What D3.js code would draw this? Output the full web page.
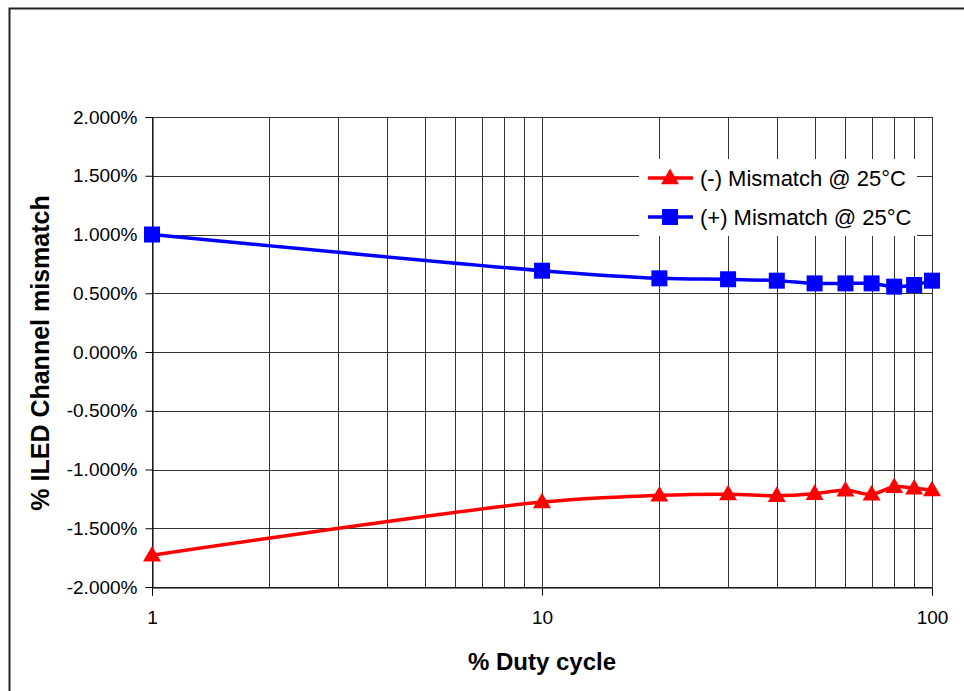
<html>
  <head>
    <meta charset="UTF-8" />
    <script src="https://d3js.org/d3.v7.min.js"></script>
    <style>
      body { margin: 0; background: #fff; }
      text { font-family: "Liberation Sans", Arial, sans-serif; }
    </style>
  </head>
  <body>
    <svg id="svg"></svg>
    <script>
      // duty cycle (%) and channel mismatch (%)
      var duty = [1, 10, 20, 30, 40, 50, 60, 70, 80, 90, 100];
      var negMismatch = [-1.73, -1.277, -1.22, -1.21, -1.223, -1.206, -1.177, -1.211, -1.147, -1.16, -1.176];
      var posMismatch = [1.0, 0.692, 0.627, 0.619, 0.607, 0.584, 0.584, 0.584, 0.556, 0.57, 0.607];
      var yTicks = [-2, -1.5, -1, -0.5, 0, 0.5, 1, 1.5, 2];
      var xGrid = [1, 2, 3, 4, 5, 6, 7, 8, 9, 10, 20, 30, 40, 50, 60, 70, 80, 90, 100];
      var xLabels = [1, 10, 100];
      var seriesNames = ["(-) Mismatch @ 25°C", "(+) Mismatch @ 25°C"];

      var width = 964, height = 691;
      var plotLeft = 152, plotTop = 117, plotW = 780, plotH = 470;

      var svg = d3.select("#svg").attr("width", width).attr("height", height);

      // outer frame (only top and left edges visible)
      svg.append("path")
        .attr("d", "M9.5," + height + "V8.5H" + width)
        .attr("fill", "none")
        .attr("stroke", "#222")
        .attr("stroke-width", 2);

      var x = d3.scaleLog().domain([1, 100]).range([plotLeft, plotLeft + plotW]);
      var y = d3.scaleLinear().domain([-2, 2]).range([plotTop + plotH, plotTop]);

      var grid = svg.append("g").attr("shape-rendering", "crispEdges");
      grid.selectAll(".vg")
        .data(xGrid)
        .enter()
        .append("line")
        .attr("x1", (d) => Math.round(x(d)) + 0.5)
        .attr("x2", (d) => Math.round(x(d)) + 0.5)
        .attr("y1", plotTop)
        .attr("y2", plotTop + plotH)
        .attr("stroke", "#333");
      grid.selectAll(".hg")
        .data(yTicks)
        .enter()
        .append("line")
        .attr("x1", plotLeft)
        .attr("x2", plotLeft + plotW)
        .attr("y1", (d) => Math.round(y(d)) + 0.5)
        .attr("y2", (d) => Math.round(y(d)) + 0.5)
        .attr("stroke", "#333");

      // axes
      var yAxis = svg.append("g")
        .attr("transform", "translate(" + (plotLeft + 0.5) + ",0)")
        .call(d3.axisLeft(y).tickValues(yTicks).tickSize(7).tickPadding(8)
          .tickFormat((d) => d.toFixed(3) + "%"));
      var xAxis = svg.append("g")
        .attr("transform", "translate(0," + (plotTop + plotH + 0.5) + ")")
        .call(d3.axisBottom(x).tickValues(xLabels).tickSize(8).tickPadding(15)
          .tickFormat(d3.format("d")));
      [yAxis, xAxis].forEach((a) => {
        a.select(".domain").attr("stroke", "#000");
        a.selectAll(".tick line").attr("stroke", "#000");
        a.selectAll("text")
          .attr("fill", "#000")
          .style("font-family", "Liberation Sans, Arial, sans-serif")
          .style("font-size", "19px");
      });

      // axis titles
      svg.append("text")
        .attr("transform", "translate(49," + (plotTop + plotH / 2 + 1) + ") rotate(-90)")
        .attr("text-anchor", "middle")
        .style("font-size", "25px")
        .style("font-weight", "bold")
        .text("% ILED Channel mismatch");
      svg.append("text")
        .attr("x", x(10))
        .attr("y", 670)
        .attr("text-anchor", "middle")
        .style("font-size", "24px")
        .style("font-weight", "bold")
        .text("% Duty cycle");

      var line = d3.line().curve(d3.curveCatmullRom.alpha(0.5));
      var tri = d3.symbol().type(d3.symbolTriangle).size(140);

      function drawSeries(values, color, marker) {
        var pts = duty.map((d, i) => [x(d), y(values[i])]);
        svg.append("path")
          .attr("d", line(pts))
          .attr("fill", "none")
          .attr("stroke", color)
          .attr("stroke-width", 3.5);
        pts.forEach((p) => marker(p[0], p[1]));
      }

      function square(cx, cy) {
        svg.append("rect")
          .attr("x", cx - 8).attr("y", cy - 8)
          .attr("width", 16).attr("height", 16)
          .attr("fill", "#0000ff");
      }
      function triangle(cx, cy) {
        svg.append("path")
          .attr("d", tri())
          .attr("transform", "translate(" + cx + "," + (cy + 1) + ")")
          .attr("fill", "#ff0000");
      }

      drawSeries(negMismatch, "#ff0000", triangle);
      drawSeries(posMismatch, "#0000ff", square);

      // legend
      var lg = svg.append("g");
      lg.append("rect")
        .attr("x", 639).attr("y", 159)
        .attr("width", 278).attr("height", 77)
        .attr("fill", "#fff");
      var rows = [
        { name: seriesNames[0], color: "#ff0000", marker: triangle, cy: 178 },
        { name: seriesNames[1], color: "#0000ff", marker: square, cy: 217 }
      ];
      rows.forEach((r) => {
        lg.append("line")
          .attr("x1", 648).attr("x2", 693)
          .attr("y1", r.cy).attr("y2", r.cy)
          .attr("stroke", r.color)
          .attr("stroke-width", 3.5);
        r.marker(670, r.cy);
        lg.append("text")
          .attr("x", 700)
          .attr("y", r.cy + 8)
          .style("font-size", "22px")
          .attr("fill", "#000")
          .text(r.name);
      });
    </script>
  </body>
</html>
